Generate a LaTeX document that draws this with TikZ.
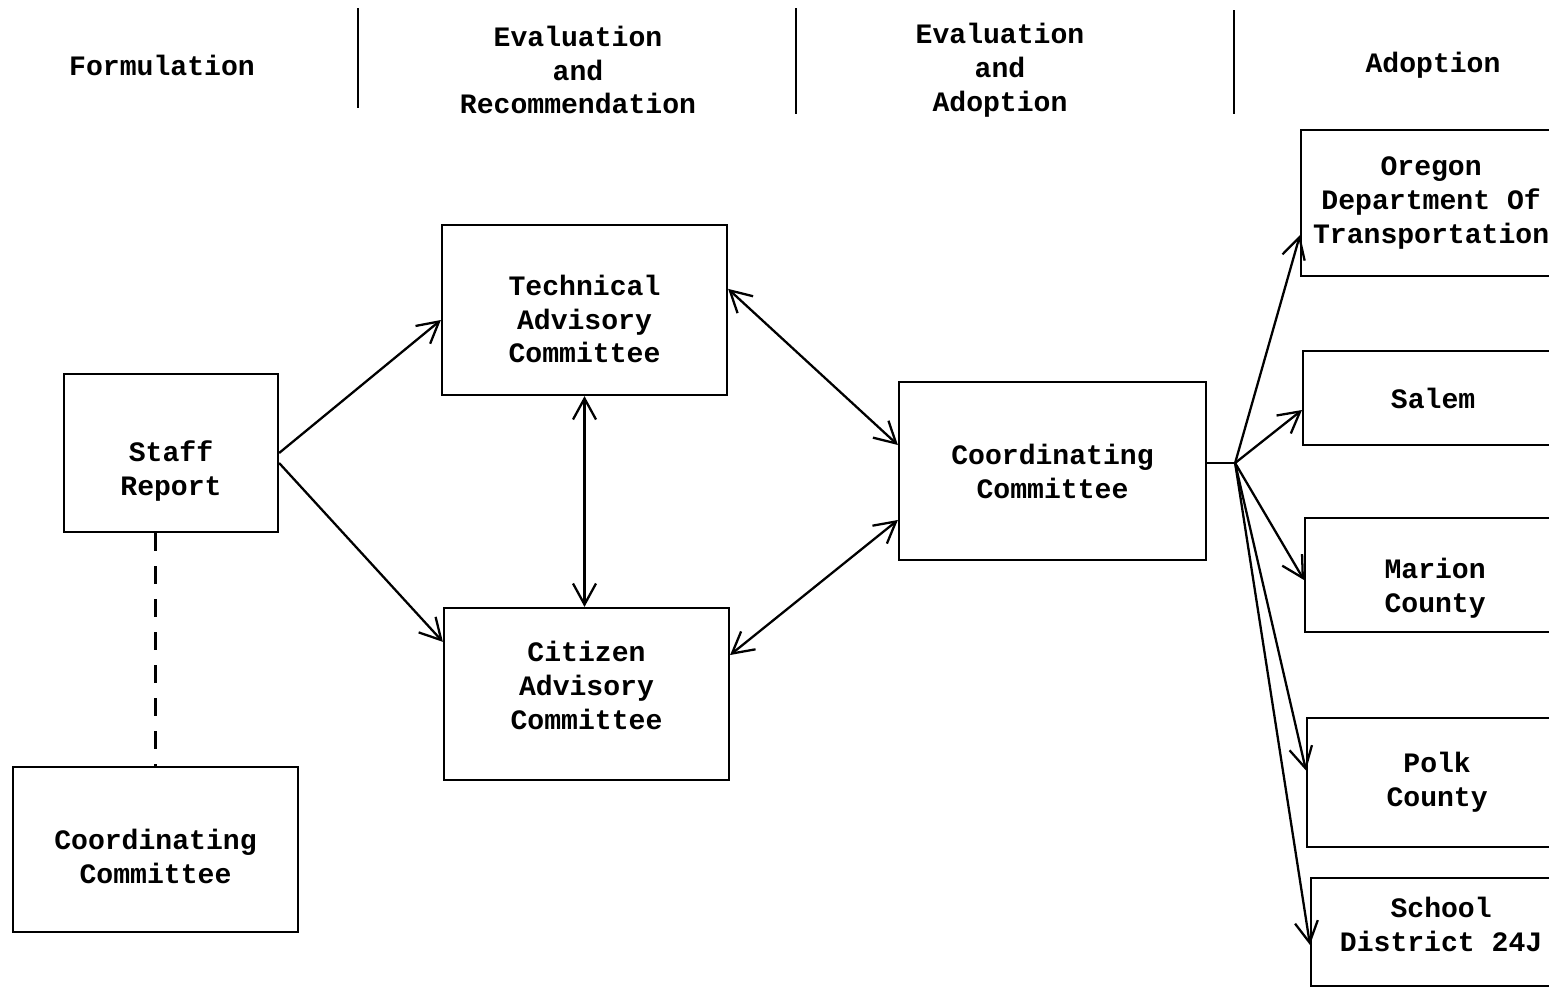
\documentclass[tikz,border=0pt]{standalone}
\usepackage{fontspec}
\setmonofont{Liberation Mono}
\usetikzlibrary{arrows.meta}

\newcommand{\pushdown}[1]{\rule{0pt}{#1}}
\newcommand{\pushup}[1]{\rule[-#1]{0pt}{0pt}}

\tikzset{
  typed/.style={font=\ttfamily\bfseries\fontsize{16}{19.3}\selectfont,align=center},
  panel/.style={typed,draw,line width=1.3pt,inner sep=0pt},
}

\begin{document}
\begin{tikzpicture}[x=0.02cm,y=-0.02cm,line width=1.3pt,>={Straight Barb[length=0.42cm,width=0.46cm]}]
                 \clip (0,0) rectangle (1549,987);
                 % headings
                 \node[typed](hform)at(162,65){Formulation};
                 \node[typed](hrec)at(578,70){Evaluation\\and\\Recommendation};
                 \node[typed](hevad)at(1000,70){Evaluation\\and\\Adoption};
                 \node[typed](hadop)at(1433,65){Adoption};
                 \draw (358,8) -- (358,108);
                 \draw (796,8) -- (796,114);
                 \draw (1234,10) -- (1234,114);
                 % boxes
                 \node[panel,minimum width=4.28cm,minimum height=3.16cm](staff)at(171,453){\pushdown{32pt}Staff\\Report};
                 \node[panel,minimum width=5.7cm,minimum height=3.3cm](cocl)at(155.5,849.5){\pushdown{19.6pt}Coordinating\\Committee};
                 \node[panel,minimum width=5.7cm,minimum height=3.4cm](tac)at(584.5,310){\pushdown{21.8pt}Technical\\Advisory\\Committee};
                 \node[panel,minimum width=5.7cm,minimum height=3.44cm](cac)at(586.5,694){Citizen\\Advisory\\Committee\pushup{10.2pt}};
                 \node[panel,minimum width=6.14cm,minimum height=3.56cm](coord)at(1052.5,471){Coordinating\\Committee};
                 \node[panel,anchor=west,minimum width=5.2cm,minimum height=2.92cm](odot)at(1300,203){Oregon\\Department Of\\Transportation};
                 \node[panel,anchor=west,minimum width=5.2cm,minimum height=1.88cm](salem)at(1302,398){Salem};
                 \node[panel,anchor=west,minimum width=5.2cm,minimum height=2.28cm](marion)at(1304,575){\pushdown{26.4pt}Marion\\County};
                 \node[panel,anchor=west,minimum width=5.2cm,minimum height=2.58cm](polk)at(1306,782.5){Polk\\County};
                 \node[panel,anchor=west,minimum width=5.2cm,minimum height=2.16cm](school)at(1310,932){School\\District 24J\pushup{9pt}};
                 % connectors
                 \draw[dash pattern=on 0.36cm off 0.3cm,line width=1.5pt] (staff.south -| cocl.north) -- (cocl.north);
                 \draw[->] (staff.east) -- ([yshift=-0.2cm]tac.west);
                 \draw[->] ([yshift=-0.2cm]staff.east) -- ([yshift=-0.7cm]cac.north west);
                 \draw[<->] (tac.south) -- (tac.south |- cac.north);
                 \draw[<->] ([yshift=-1.3cm]tac.north east) -- ([yshift=0.52cm]coord.west);
                 \draw[<->] ([yshift=0.78cm]cac.east) -- ([yshift=-0.98cm]coord.west);
                 \coordinate (fan) at ([xshift=0.56cm,yshift=0.16cm]coord.east);
                 \draw ([yshift=0.16cm]coord.east) -- (fan);
                 \foreach \t/\s in {odot/-0.64cm,salem/-0.24cm,marion/-0.1cm,polk/0.24cm,school/-0.26cm}
                   \draw[->] (fan) -- ([yshift=\s]\t.west);
               \end{tikzpicture}
\end{document}
